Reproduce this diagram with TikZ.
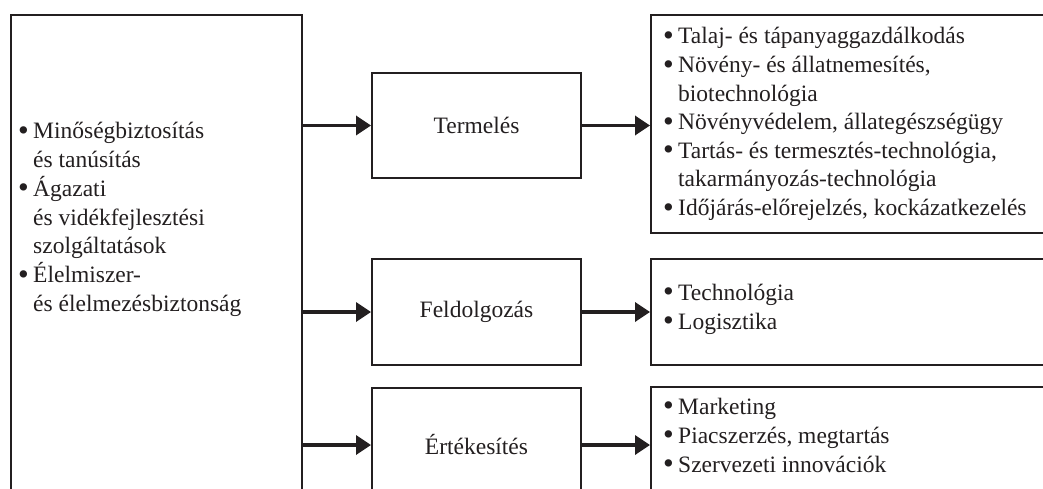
\documentclass[tikz,border=0pt]{standalone}
\usepackage{fontspec}
\setmainfont{Liberation Serif}
\usetikzlibrary{arrows.meta}
\definecolor{ink}{RGB}{35,31,32}
\newcommand{\itm}[1]{\makebox[15pt][l]{\raisebox{-0.07em}{\scalebox{1.3}{\textbullet}}}#1}
\newcommand{\cnt}[1]{\hspace*{15pt}#1}
\begin{document}
\begin{tikzpicture}[x=1pt,y=-1pt,
  box/.style={draw=ink, line width=2pt, rectangle, inner sep=0pt, anchor=north west, text=ink,
              font=\fontsize{23.5pt}{24.5pt}\selectfont},
  lst/.style={text=ink, align=left, inner sep=0pt, anchor=west},
  conn/.style={draw=ink, line width=3.5pt, -{Triangle[length=15pt,width=19pt]}}
]
\clip (0,0) rectangle (1043,489);
\fill[white] (0,0) rectangle (1043,489);

\node[box, minimum width=291pt, minimum height=520pt] (src) at (10,14) {};
\node[box, minimum width=209pt, minimum height=105pt] (term) at (371,72) {Termelés};
\node[box, minimum width=209pt, minimum height=106pt] (feld) at (371,258) {Feldolgozás};
\node[box, minimum width=209pt, minimum height=114pt] (ert) at (371,387) {Értékesítés};
\node[box, minimum width=420pt, minimum height=218pt] (r1) at (650,14) {};
\node[box, minimum width=420pt, minimum height=106pt] (r2) at (650,258) {};
\node[box, minimum width=420pt, minimum height=116pt] (r3) at (650,386) {};

\node[lst, font=\fontsize{23.5pt}{28.8pt}\selectfont] (srctext) at (18,219.5)
  {\itm{Minőségbiztosítás}\\ \cnt{és tanúsítás}\\ \itm{Ágazati}\\ \cnt{és vidékfejlesztési}\\
   \cnt{szolgáltatások}\\ \itm{Élelmiszer-}\\ \cnt{és élelmezésbiztonság}};
\node[lst, font=\fontsize{23.5pt}{28.6pt}\selectfont] (r1text) at (663,124)
  {\itm{Talaj- és tápanyaggazdálkodás}\\ \itm{Növény- és állatnemesítés,}\\ \cnt{biotechnológia}\\
   \itm{Növényvédelem, állategészségügy}\\ \itm{Tartás- és termesztés-technológia,}\\
   \cnt{takarmányozás-technológia}\\ \itm{Időjárás-előrejelzés, kockázatkezelés}};
\node[lst, font=\fontsize{23.5pt}{29pt}\selectfont] (r2text) at (663,309)
  {\itm{Technológia}\\ \itm{Logisztika}};
\node[lst, font=\fontsize{23.5pt}{29pt}\selectfont] (r3text) at (663,436)
  {\itm{Marketing}\\ \itm{Piacszerzés, megtartás}\\ \itm{Szervezeti innovációk}};

\draw[conn] (src.east |- term.west) -- (term.west);
\draw[conn] (src.east |- feld.west) -- (feld.west);
\draw[conn] (src.east |- ert.west) -- (ert.west);
\draw[conn] (term.east) -- (r1.west |- term.east);
\draw[conn] (feld.east) -- (r2.west |- feld.east);
\draw[conn] (ert.east) -- (r3.west |- ert.east);
\end{tikzpicture}
\end{document}
